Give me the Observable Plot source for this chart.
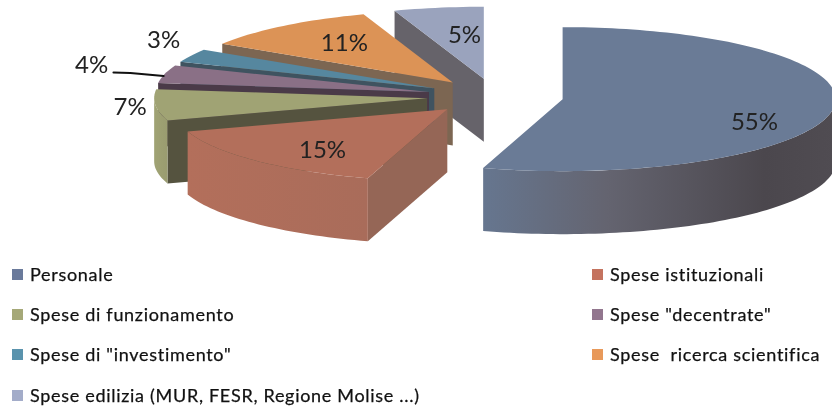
<!DOCTYPE html>
<html><head><meta charset="utf-8">
<script src="https://cdn.jsdelivr.net/npm/d3@7"></script>
<script src="https://cdn.jsdelivr.net/npm/@observablehq/plot@0.6"></script>
<style>
html,body{margin:0;padding:0;background:#fff;width:832px;height:413px;overflow:hidden}
#chart svg{display:block;filter:blur(.45px)}
#legend{position:relative;height:158px;font-family:Lato,sans-serif;font-size:18px;letter-spacing:.7px;color:#111;filter:blur(.35px);-webkit-text-stroke:.25px #111}
.it{position:absolute;white-space:pre;line-height:20px}
.sw{position:absolute;width:11px;height:11px;top:5px;left:0}
.tx{position:absolute;left:18px;top:0}
</style></head><body>
<div id="chart"></div><div id="legend"></div>
<script>
const categories = ["Personale","Spese istituzionali","Spese di funzionamento","Spese \"decentrate\"","Spese di \"investimento\"","Spese  ricerca scientifica","Spese edilizia (MUR, FESR, Regione Molise ...)"];
const values = [54.7,15.3,7,4,3,10.7,5.3];
const topColors  = ["#6a7b96","#b36f5b","#a0a374","#8a7086","#56879f","#dc9356","#9aa3bd"];
const cutColors  = ["#5b6577","#956656","#55533f","#4a3a48","#3f5360","#7c6652","#66636a"];
const wallColors = ["url(#wallP)","url(#wallI)","url(#wallF)","#6f5a6a","#3f5360","#a87548","#7a7f94"];
const legendColors = ["#6a7a9b","#c4735f","#a5a878","#92768e","#5a93ad","#e8995a","#a3acc9"];
const labels = ["55%","15%","7%","4%","3%","11%","5%"];
const labelX = [0.950,-0.632,-1.337,-1.478,-1.214,-0.552,-0.112];
const labelY = [0.361,0.750,0.153,-0.431,-0.778,-0.736,-0.847];
const leaderX = [-1.398,-1.336,-1.214];
const leaderY = [-0.333,-0.326,-0.285];
const explode = 0.25, depth = 0.875;
const W = 832, H = 255, cx = 494.6, cy = 96, a = 273, b = 72;

const rad = d => d * Math.PI / 180;
let acc = 0;
const slices = values.map((v, i) => {
  const t0 = acc / 100 * 360; acc += v; const t1 = acc / 100 * 360;
  const m = rad((t0 + t1) / 2);
  return {i, t0, t1, ax: explode * Math.sin(m), ay: -explode * Math.cos(m)};
});
const rim = (s, t, dz = 0) => ({x: s.ax + Math.sin(rad(t)), y: s.ay - Math.cos(rad(t)) + dz});
const arc = (s, t0, t1, dz = 0) => {
  const n = Math.max(2, Math.ceil(Math.abs(t1 - t0) / 1.5)), p = [];
  for (let k = 0; k <= n; k++) p.push(rim(s, t0 + (t1 - t0) * k / n, dz));
  return p;
};
const poly = (pts, c) => Plot.line([...pts, pts[0]], {x: "x", y: "y", fill: c, stroke: "none", curve: "linear"});

const marks = [];
for (const s of [...slices].reverse()) {
  const apex = {x: s.ax, y: s.ay}, apexB = {x: s.ax, y: s.ay + depth};
  if (s.i !== 0) marks.push(poly([apex, rim(s, s.t0), rim(s, s.t0, depth), apexB], cutColors[s.i]));
  const w0 = Math.max(s.t0, 90), w1 = Math.min(s.t1, 270);
  if (w1 > w0) marks.push(poly([...arc(s, w0, w1), ...arc(s, w1, w0, depth)], wallColors[s.i]));
  marks.push(poly([apex, ...arc(s, s.t0, s.t1)], topColors[s.i]));
}
const labelRows = labels.map((t, i) => ({t, x: labelX[i], y: labelY[i]}));
const fig = Plot.plot({
  width: W, height: H, margin: 0,
  style: {background: "#fff", overflow: "hidden"},
  x: {domain: [-cx / a, (W - cx) / a], range: [0, W], axis: null},
  y: {domain: [-cy / b, (H - cy) / b], range: [0, H], axis: null},
  marks: [
    ...marks,
    Plot.line(leaderX.map((x, i) => ({x, y: leaderY[i]})), {x: "x", y: "y", stroke: "#111", strokeWidth: 2}),
    Plot.text(labelRows, {x: "x", y: "y", text: "t", fontSize: 24, fontFamily: "Lato, sans-serif", fontWeight: 400, fill: "#222"})
  ]
});
const ns = "http://www.w3.org/2000/svg";
const defs = document.createElementNS(ns, "defs");
defs.innerHTML = `
<linearGradient id="wallP" x1="0" x2="1" y1="0" y2="0">
 <stop offset="0" stop-color="#66768f"/><stop offset=".35" stop-color="#646470"/>
 <stop offset=".8" stop-color="#4b474d"/><stop offset="1" stop-color="#504c52"/></linearGradient>
<linearGradient id="wallI" x1="0" x2="1" y1="0" y2="0">
 <stop offset="0" stop-color="#b36f5b"/><stop offset="1" stop-color="#a96c5a"/></linearGradient>
<linearGradient id="wallF" x1="0" x2="1" y1="0" y2="0">
 <stop offset="0" stop-color="#a0a374"/><stop offset="1" stop-color="#9a9c70"/></linearGradient>`;
fig.prepend(defs);
document.getElementById("chart").append(fig);

const legend = document.getElementById("legend");
const rowTops = [9, 49, 89, 130];
categories.forEach((c, i) => {
  const el = document.createElement("div");
  el.className = "it";
  el.style.left = (i % 2 ? 592 : 12) + "px";
  el.style.top = rowTops[Math.floor(i / 2)] + "px";
  el.innerHTML = `<span class="sw" style="background:${legendColors[i]}"></span><span class="tx"></span>`;
  el.querySelector(".tx").textContent = c;
  legend.append(el);
});
</script></body></html>
